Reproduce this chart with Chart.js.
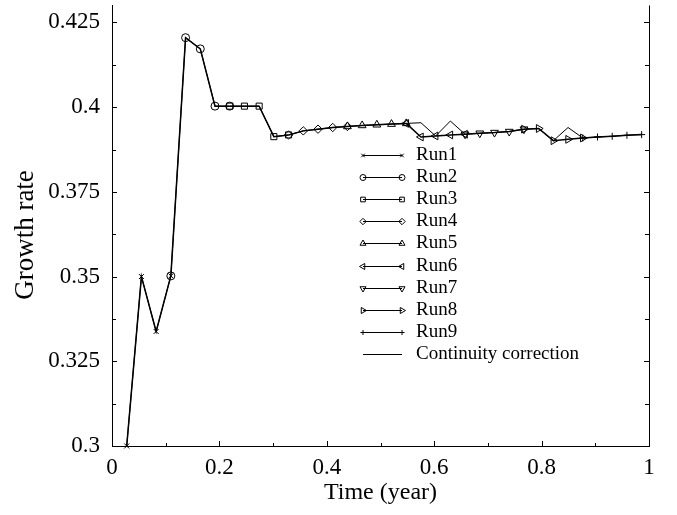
<!DOCTYPE html>
<html><head><meta charset="utf-8">
<script src="https://cdn.jsdelivr.net/npm/chart.js@4.4.0/dist/chart.umd.min.js"></script>
<style>html,body{margin:0;padding:0;background:#fff;}canvas{display:block;}</style>
</head><body>
<canvas id="c" width="677" height="515"></canvas>
<script>
// ---- data ----
const time = [0.0274, 0.0548, 0.0822, 0.1096, 0.1370, 0.1644, 0.1918, 0.2192, 0.2466, 0.2740,
              0.3014, 0.3288, 0.3562, 0.3836, 0.4110, 0.4384, 0.4658, 0.4932, 0.5205, 0.5479,
              0.5753, 0.6027, 0.6301, 0.6575, 0.6849, 0.7123, 0.7397, 0.7671, 0.7945, 0.8219,
              0.8493, 0.8767, 0.9041, 0.9315, 0.9589, 0.9863];
const runLabels = ['Run1','Run2','Run3','Run4','Run5','Run6','Run7','Run8','Run9'];
const runStart = [1, 4, 8, 12, 16, 20, 24, 28, 32];   // index (1-based) into time
const run1 = [0.3000, 0.3500, 0.3338, 0.3502];
const run2 = [0.3502, 0.4205, 0.4172, 0.4003, 0.4003];
const run3 = [0.4003, 0.4003, 0.4003, 0.3913, 0.3918];
const run4 = [0.3918, 0.3930, 0.3935, 0.3940, 0.3943];
const run5 = [0.3943, 0.3946, 0.3948, 0.3950, 0.3952];
const run6 = [0.3952, 0.3912, 0.3915, 0.3918, 0.3920];
const run7 = [0.3920, 0.3923, 0.3925, 0.3928, 0.3935];
const run8 = [0.3935, 0.3937, 0.3901, 0.3905, 0.3909];
const run9 = [0.3909, 0.3912, 0.3914, 0.3917, 0.3919];
const continuityLabel = 'Continuity correction';
const continuity = [0.3000, 0.3500, 0.3338, 0.3502, 0.4205, 0.4172, 0.4003, 0.4003, 0.4003, 0.4003,
                    0.3913, 0.3918, 0.3930, 0.3935, 0.3940, 0.3943, 0.3946, 0.3948, 0.3950, 0.3952,
                    0.3954, 0.3915, 0.3959, 0.3920, 0.3923, 0.3925, 0.3928, 0.3935, 0.3937, 0.3901,
                    0.3940, 0.3909, 0.3912, 0.3914, 0.3917, 0.3919];
const xTickValues = [0, 0.2, 0.4, 0.6, 0.8, 1];
const xTickLabels = ['0', '0.2', '0.4', '0.6', '0.8', '1'];
const yTickValues = [0.3, 0.325, 0.35, 0.375, 0.4, 0.425];
const yTickLabels = ['0.3', '0.325', '0.35', '0.375', '0.4', '0.425'];
const xTitle = 'Time (year)';
const yTitle = 'Growth rate';

// ---- styling ----
const FONT = "'Liberation Serif','Times New Roman',serif";
Chart.defaults.font.family = FONT;
Chart.defaults.color = '#000';
const markers = [
  {style:'crossRot', rot:0, r:3.5},
  {style:'circle', rot:0, r:4},
  {style:'rect', rot:0, r:4.3},
  {style:'rectRot', rot:0, r:4.2},
  {style:'triangle', rot:0, r:4.5},
  {style:'triangle', rot:-90, r:4.5},
  {style:'triangle', rot:180, r:4.5},
  {style:'triangle', rot:90, r:4.5},
  {style:'cross', rot:0, r:3.5}
];
const runs = [run1, run2, run3, run4, run5, run6, run7, run8, run9];
const datasets = runs.map((vals, r) => ({
  label: runLabels[r],
  data: vals.map((v, i) => ({x: time[runStart[r] - 1 + i], y: v})),
  borderColor: '#000', borderWidth: 1.5, backgroundColor: 'rgba(0,0,0,0)',
  pointStyle: markers[r].style, pointRotation: markers[r].rot, pointRadius: markers[r].r,
  pointBorderWidth: 1, pointBorderColor: '#000', pointBackgroundColor: 'rgba(0,0,0,0)',
  pointHoverRadius: markers[r].r, tension: 0, fill: false, clip: false
}));
datasets.push({
  label: continuityLabel,
  data: continuity.map((v, i) => ({x: time[i], y: v})),
  borderColor: '#000', borderWidth: 1, backgroundColor: 'rgba(0,0,0,0)',
  pointRadius: 0, pointHoverRadius: 0, tension: 0, fill: false, clip: false
});

const framePlugin = {
  id: 'frame',
  afterDraw(chart) {
    const ctx = chart.ctx, a = chart.chartArea, xs = chart.scales.x, ys = chart.scales.y;
    ctx.save();
    ctx.strokeStyle = '#000'; ctx.lineWidth = 1;
    ctx.beginPath();
    ctx.moveTo(Math.round(a.right) + 0.5, a.top); ctx.lineTo(Math.round(a.right) + 0.5, a.bottom);
    for (let i = 0; i <= 10; i++) {
      const p = Math.round(ys.getPixelForValue(0.3 + i * 0.0125)) + 0.5;
      const len = i % 2 === 0 ? 5 : 4;
      ctx.moveTo(a.left, p); ctx.lineTo(a.left + len, p);
      ctx.moveTo(a.right, p); ctx.lineTo(a.right - len, p);
    }
    for (let i = 0; i <= 10; i++) {
      const p = Math.round(xs.getPixelForValue(i * 0.1)) + 0.5;
      const len = i % 2 === 0 ? 5 : 3;
      ctx.moveTo(p, a.bottom); ctx.lineTo(p, a.bottom - len);
    }
    ctx.stroke();
    // y axis title
    ctx.fillStyle = '#000';
    ctx.font = '27px ' + FONT;
    ctx.textAlign = 'center'; ctx.textBaseline = 'middle';
    ctx.translate(26, 235); ctx.rotate(-Math.PI / 2);
    ctx.fillText(yTitle, 0, 0);
    ctx.restore();

    // legend
    ctx.save();
    const x0 = 363, x1 = 402, tx = 416, y0 = 155, dy = 22.1;
    chart.data.datasets.forEach((ds, i) => {
      const y = Math.round(y0 + i * dy) + 0.5;
      ctx.strokeStyle = '#000'; ctx.lineWidth = 1;
      ctx.beginPath(); ctx.moveTo(x0, y); ctx.lineTo(x1, y); ctx.stroke();
      if (ds.pointRadius > 0) {
        ctx.fillStyle = 'rgba(0,0,0,0)';
        [x0, x1].forEach(px => {
          Chart.helpers.drawPoint(ctx, {pointStyle: ds.pointStyle, rotation: ds.pointRotation,
            radius: Math.max(2.5, ds.pointRadius - 1), borderWidth: 1}, px, y);
        });
      }
      ctx.fillStyle = '#000';
      ctx.font = '19px ' + FONT;
      ctx.textAlign = 'left'; ctx.textBaseline = 'middle';
      ctx.fillText(ds.label, tx, y);
    });
    ctx.restore();
  }
};

new Chart(document.getElementById('c'), {
  type: 'line',
  data: {datasets},
  options: {
    responsive: false, animation: false,
    layout: {padding: {top: 2, right: 28, bottom: 0, left: 0}},
    plugins: {legend: {display: false}, tooltip: {enabled: false}},
    scales: {
      x: {
        type: 'linear', min: 0, max: 1,
        afterBuildTicks: s => { s.ticks = xTickValues.map(v => ({value: v})); },
        afterFit: s => { s.height = 69; s.paddingLeft = 0; s.paddingRight = 0; },
        ticks: {callback: (v, i) => xTickLabels[i], font: {size: 23}, color: '#000', padding: 8, maxRotation: 0, autoSkip: false},
        grid: {display: false, drawTicks: false},
        border: {display: true, color: '#000', width: 1},
        title: {display: true, text: xTitle, font: {size: 24}, color: '#000', padding: {top: 0, bottom: 8}}
      },
      y: {
        type: 'linear', min: 0.3, max: 0.43,
        afterBuildTicks: s => { s.ticks = yTickValues.map(v => ({value: v})); },
        afterFit: s => { s.width = 112; s.paddingTop = 0; s.paddingBottom = 0; },
        ticks: {callback: (v, i) => yTickLabels[i], font: {size: 23}, color: '#000', padding: 12, autoSkip: false},
        grid: {display: false, drawTicks: false},
        border: {display: true, color: '#000', width: 1}
      }
    }
  },
  plugins: [framePlugin]
});
</script>
</body></html>
